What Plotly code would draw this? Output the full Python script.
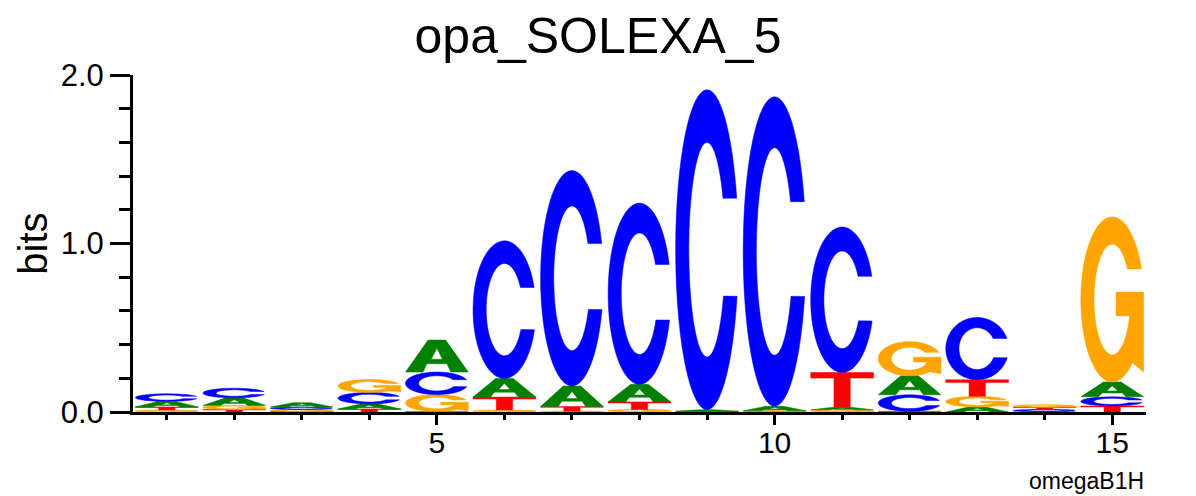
"""Sequence logo: opa_SOLEXA_5 (omegaB1H)"""

import numpy as np
import plotly.graph_objects as go

# information content (bits) of each base at each motif position
positions = list(range(1, 16))
bits_A = [0.033, 0.045, 0.025, 0.030, 0.190, 0.110, 0.122, 0.104, 0.009, 0.027, 0.015, 0.113, 0.030, 0.003, 0.088]
bits_C = [0.045, 0.057, 0.015, 0.068, 0.134, 0.817, 1.279, 1.076, 1.900, 1.837, 0.864, 0.098, 0.370, 0.012, 0.054]
bits_G = [0.012, 0.024, 0.012, 0.077, 0.100, 0.012, 0.005, 0.015, 0.002, 0.004, 0.013, 0.203, 0.063, 0.015, 0.980]
bits_T = [0.018, 0.015, 0.003, 0.018, 0.003, 0.077, 0.027, 0.045, 0.002, 0.003, 0.206, 0.004, 0.098, 0.013, 0.036]

x_labeled_ticks = [5, 10, 15]
y_labeled_ticks = [0.0, 1.0, 2.0]
y_small_ticks = [0.0, 0.2, 0.4, 0.6, 0.8, 1.0, 1.2, 1.4, 1.6, 1.8, 2.0]

letter_colors = {"A": "#008000", "C": "#0000ff", "G": "#ffa500", "T": "#ff0000"}
LETTER_WIDTH = 0.93


def _arc(cx, cy, rx, ry, a0, a1, n=60):
    t = np.radians(np.linspace(a0, a1, n))
    return list(zip(cx + rx * np.cos(t), cy + ry * np.sin(t)))


# glyph outlines in a unit box (0..1 x 0..1)
def glyph(letter):
    if letter == "A":
        outer = [(0, 0), (0.36, 1), (0.64, 1), (1, 0), (0.72, 0), (0.66, 0.26),
                 (0.34, 0.26), (0.28, 0)]
        hole = [(0.41, 0.40), (0.59, 0.40), (0.5, 0.74)]
        return [outer, hole]
    if letter == "C":
        pts = _arc(0.5, 0.5, 0.5, 0.5, 18.8, 343.1) + _arc(0.5, 0.5, 0.29, 0.335, 334.4, 28.7)
        return [pts]
    if letter == "G":
        pts = _arc(0.5, 0.5, 0.5, 0.5, 21.7, 310)
        pts += [(1.0, 0.06), (1.0, 0.545), (0.56, 0.545), (0.56, 0.40)]
        pts += _arc(0.5, 0.5, 0.29, 0.335, 342.6, 33.5)
        return [pts]
    # T
    return [[(0, 1), (1, 1), (1, 0.84), (0.63, 0.84), (0.63, 0), (0.37, 0),
             (0.37, 0.84), (0, 0.84)]]


def glyph_path(letter, x, y0, h):
    parts = []
    for contour in glyph(letter):
        coords = [(x - LETTER_WIDTH / 2 + u * LETTER_WIDTH, y0 + v * h) for u, v in contour]
        parts.append("M " + " L ".join(f"{a:.4f},{b:.5f}" for a, b in coords) + " Z")
    return " ".join(parts)


fig = go.Figure()

shapes = []
for i, pos in enumerate(positions):
    stack = sorted(
        [("A", bits_A[i]), ("C", bits_C[i]), ("G", bits_G[i]), ("T", bits_T[i])],
        key=lambda s: s[1],
    )
    y0 = 0.0
    for letter, h in stack:
        shapes.append(dict(
            type="path", xref="x", yref="y",
            path=glyph_path(letter, pos, y0, h),
            fillcolor=letter_colors[letter],
            line=dict(color=letter_colors[letter], width=0.5),
            layer="below",
        ))
        y0 += h

# invisible traces so both axis pairs are drawn
fig.add_trace(go.Scatter(x=positions, y=[0] * len(positions), mode="markers",
                         marker=dict(opacity=0), hoverinfo="skip", showlegend=False))
fig.add_trace(go.Scatter(x=positions, y=[0] * len(positions), mode="markers",
                         xaxis="x2", yaxis="y2",
                         marker=dict(opacity=0), hoverinfo="skip", showlegend=False))

font = "Liberation Sans, Arial, sans-serif"
axis_common = dict(showline=True, linewidth=3, linecolor="black", showgrid=False,
                   zeroline=False, ticks="outside", tickwidth=3, tickcolor="black")
fig.update_layout(
    width=1196, height=496,
    shapes=shapes,
    title=dict(text="opa_SOLEXA_5", x=0.5, xref="container", xanchor="center",
               y=1 - 35 / 496, yref="container", yanchor="middle",
               font=dict(size=50, color="black", family=font)),
    margin=dict(l=133, r=50, t=75, b=84),
    plot_bgcolor="white", paper_bgcolor="white",
    font=dict(family=font, color="black"),
    xaxis=dict(range=[0.5, 15.5], tickmode="array", tickvals=x_labeled_ticks,
               ticklen=10, tickfont=dict(size=30), ticklabelstandoff=-8, **axis_common),
    xaxis2=dict(range=[0.5, 15.5], overlaying="x", anchor="y2", side="bottom",
                tickmode="array", tickvals=positions, ticklen=5,
                showticklabels=False, **axis_common),
    yaxis=dict(range=[0, 2], tickmode="array", tickvals=y_labeled_ticks,
               tickformat=".1f", ticklen=20, tickfont=dict(size=31),
               title=dict(text="bits", font=dict(size=40), standoff=1), **axis_common),
    yaxis2=dict(range=[0, 2], overlaying="y", anchor="x2", side="left",
                tickmode="array", tickvals=y_small_ticks, ticklen=11,
                showticklabels=False, **axis_common),
    annotations=[dict(text="omegaB1H", xref="paper", yref="paper", x=1, y=-0.205,
                      xanchor="right", yanchor="middle", showarrow=False,
                      font=dict(size=23, color="black"))],
)

fig.write_html("out.html",
               config={"displayModeBar": False},
               post_script="document.body.style.margin='0';"
                           "document.body.style.overflow='hidden';")
